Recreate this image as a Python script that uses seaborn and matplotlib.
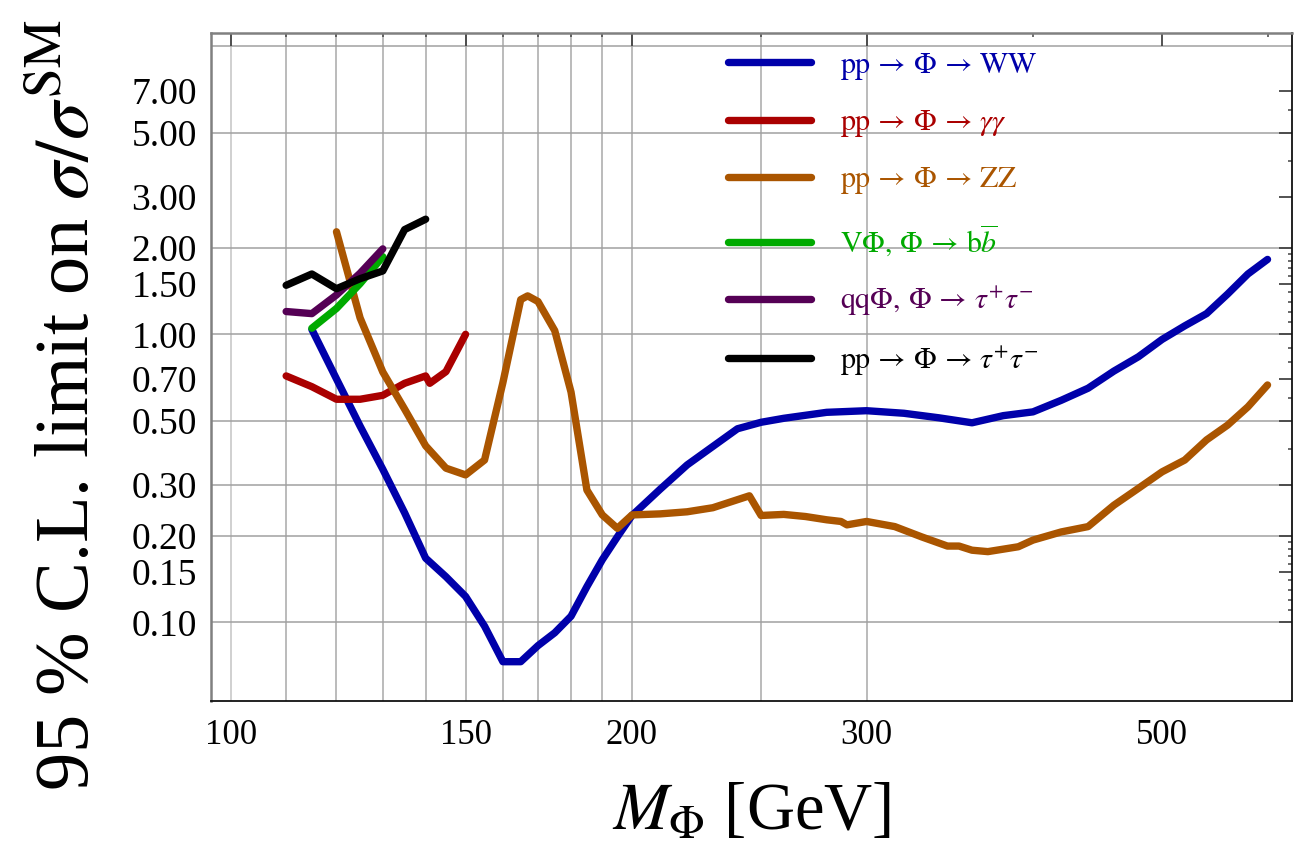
import numpy as np
import pandas as pd
import matplotlib
matplotlib.use("Agg")
import matplotlib.pyplot as plt
import seaborn as sns

# ---- limits on sigma / sigma_SM versus the scalar mass (GeV) ----
ww_mass = [115, 120, 125, 130, 135, 140, 145, 150, 155, 160, 165, 170, 175, 180,
           185, 190, 195, 200, 210, 220, 240, 250, 260, 280, 300, 320, 340, 360,
           380, 400, 420, 440, 460, 480, 500, 520, 540, 560, 580, 600]
ww_limit = [1.04, 0.70, 0.48, 0.34, 0.24, 0.167, 0.144, 0.123, 0.097, 0.073, 0.073,
            0.083, 0.092, 0.105, 0.133, 0.165, 0.198, 0.235, 0.29, 0.352, 0.47,
            0.495, 0.511, 0.536, 0.543, 0.532, 0.513, 0.493, 0.522, 0.538, 0.59,
            0.65, 0.745, 0.836, 0.96, 1.07, 1.18, 1.38, 1.62, 1.82]

gg_mass = [110, 115, 120, 125, 130, 135, 140, 141, 145, 150]
gg_limit = [0.717, 0.658, 0.595, 0.595, 0.614, 0.676, 0.717, 0.676, 0.742, 1.0]

zz_mass = [120, 125, 130, 135, 140, 145, 150, 155, 160, 165, 167, 170, 175, 180,
           185, 190, 195, 200, 210, 220, 230, 245, 250, 260, 270, 280, 287, 290,
           300, 315, 330, 345, 352, 360, 370, 390, 400, 420, 440, 460, 480, 500,
           520, 540, 560, 580, 600]
zz_limit = [2.27, 1.14, 0.74, 0.55, 0.41, 0.343, 0.325, 0.366, 0.68, 1.32, 1.36,
            1.30, 1.03, 0.63, 0.288, 0.236, 0.212, 0.236, 0.238, 0.242, 0.25,
            0.275, 0.235, 0.237, 0.233, 0.227, 0.224, 0.218, 0.224, 0.215, 0.198,
            0.184, 0.184, 0.178, 0.176, 0.183, 0.193, 0.206, 0.215, 0.255, 0.292,
            0.333, 0.366, 0.43, 0.484, 0.56, 0.667]

bb_mass = [115, 120, 125, 130]
bb_limit = [1.05, 1.23, 1.50, 1.86]

qqtt_mass = [110, 115, 120, 125, 130]
qqtt_limit = [1.20, 1.18, 1.37, 1.63, 1.98]

pptt_mass = [110, 115, 120, 125, 130, 135, 140]
pptt_limit = [1.48, 1.62, 1.44, 1.56, 1.66, 2.31, 2.51]

channel_labels = [
    r"$\mathrm{pp}\,\rightarrow\,\Phi\,\rightarrow\,\mathrm{WW}$",
    r"$\mathrm{pp}\,\rightarrow\,\Phi\,\rightarrow\,\gamma\gamma$",
    r"$\mathrm{pp}\,\rightarrow\,\Phi\,\rightarrow\,\mathrm{ZZ}$",
    r"$\mathrm{V}\Phi,\,\Phi\,\rightarrow\,\mathrm{b}\overline{b}$",
    r"$\mathrm{qq}\Phi,\,\Phi\,\rightarrow\,\tau^{+}\tau^{-}$",
    r"$\mathrm{pp}\,\rightarrow\,\Phi\,\rightarrow\,\tau^{+}\tau^{-}$",
]
channel_colors = ["#0000aa", "#aa0000", "#aa5500", "#00aa00", "#550055", "#000000"]

y_major = [0.1, 0.15, 0.2, 0.3, 0.5, 0.7, 1.0, 1.5, 2.0, 3.0, 5.0, 7.0]
y_minor = [0.11, 0.12, 0.13, 0.14, 0.16, 0.17, 0.18, 0.19, 0.4, 0.6, 0.8, 0.9,
           1.1, 1.2, 1.3, 1.4, 1.6, 1.7, 1.8, 1.9, 4.0, 6.0]
x_major = [100, 150, 200, 300, 500]
x_minor = [110, 120, 130, 140, 160, 170, 180, 190, 250, 400, 600]
x_grid = [100, 110, 120, 130, 140, 150, 160, 170, 180, 190, 200, 250, 300]
y_grid = [0.1, 0.2, 0.3, 0.5, 1.0, 2.0, 5.0, 10.0]

# ---- long-format table for seaborn ----
series = [
    (ww_mass, ww_limit), (gg_mass, gg_limit), (zz_mass, zz_limit),
    (bb_mass, bb_limit), (qqtt_mass, qqtt_limit), (pptt_mass, pptt_limit),
]
frames = []
for label, (m, v) in zip(channel_labels, series):
    frames.append(pd.DataFrame({"mass": m, "limit": v, "channel": label}))
df = pd.concat(frames, ignore_index=True)

sns.set_theme(style="white")
plt.rcParams["font.family"] = ["Liberation Serif", "DejaVu Serif"]
plt.rcParams["mathtext.fontset"] = "stix"
for key in ["text.color", "axes.labelcolor", "xtick.labelcolor", "ytick.labelcolor"]:
    plt.rcParams[key] = "black"

W, H = 1303, 846
fig = plt.figure(figsize=(W / 100, H / 100), dpi=100)
left, right, top, bottom = 210.7, 1291.7, 32.7, 700.5
ax = fig.add_axes([left / W, 1 - bottom / H, (right - left) / W, (bottom - top) / H])

ax.set_xscale("log")
ax.set_yscale("log")
ax.set_xlim(96.55, 625.6)
ax.set_ylim(0.05353, 11.15)

# grid lines
for gx in x_grid:
    ax.axvline(gx, color="#c4c4c4" if gx == 100 else "#a8a8a8", lw=1.1, zorder=0)
for gy in y_grid:
    ax.axhline(gy, color="#a0a0a0", lw=1.1, zorder=0)

sns.lineplot(data=df, x="mass", y="limit", hue="channel", hue_order=channel_labels,
             palette=dict(zip(channel_labels, channel_colors)), linewidth=5.3,
             estimator=None, sort=False, ax=ax, legend=True, zorder=3)

# ticks
ax.set_xticks(x_major)
ax.set_xticks(x_minor, minor=True)
ax.set_xticklabels([str(v) for v in x_major])
ax.xaxis.set_minor_formatter(matplotlib.ticker.NullFormatter())
ax.set_yticks(y_major)
ax.set_yticks(y_minor, minor=True)
ax.set_yticklabels([f"{v:.2f}" for v in y_major])
ax.yaxis.set_minor_formatter(matplotlib.ticker.NullFormatter())

ax.tick_params(which="both", direction="in", top=True, right=True, color="#444444")
ax.tick_params(which="major", length=9.5, width=1.3)
ax.tick_params(which="minor", length=3.2, width=1.1)
ax.tick_params(axis="y", which="major", labelsize=27, pad=10)
ax.tick_params(axis="x", which="major", labelsize=25, pad=13)
ax.tick_params(axis="x", which="major", labelbottom=True, labeltop=False)
ax.tick_params(axis="y", which="major", labelleft=True, labelright=False)

for side in ["left", "top"]:
    ax.spines[side].set_color("#808080")
    ax.spines[side].set_linewidth(1.8)
for side in ["bottom", "right"]:
    ax.spines[side].set_color("#111111")
    ax.spines[side].set_linewidth(1.3)

# axis titles
ax.set_xlabel(r"$M_{\Phi}$ [GeV]", fontsize=48)
ax.xaxis.label.set(va="center", ha="center")
ax.xaxis.set_label_coords(0.5, -0.167)
ax.set_ylabel(r"95 % C.L. limit on $\sigma/\sigma^{\mathrm{SM}}$", fontsize=55)
ax.yaxis.label.set(va="center", ha="center", rotation_mode="anchor")
ax.yaxis.set_label_coords(-0.131, 0.443)

# legend with text coloured like its line
handles, labels = ax.get_legend_handles_labels()
fs = 21.5
leg = ax.legend(handles, labels, loc="upper left", bbox_to_anchor=(0.479, 0.973),
                frameon=False, fontsize=fs, borderpad=0, borderaxespad=0,
                handlelength=2.77, handletextpad=0.95, labelspacing=0.88)
for line, text, col in zip(leg.get_lines(), leg.get_texts(), channel_colors):
    line.set_linewidth(5.3)
    text.set_color(col)

fig.savefig("out.png", dpi=100)
